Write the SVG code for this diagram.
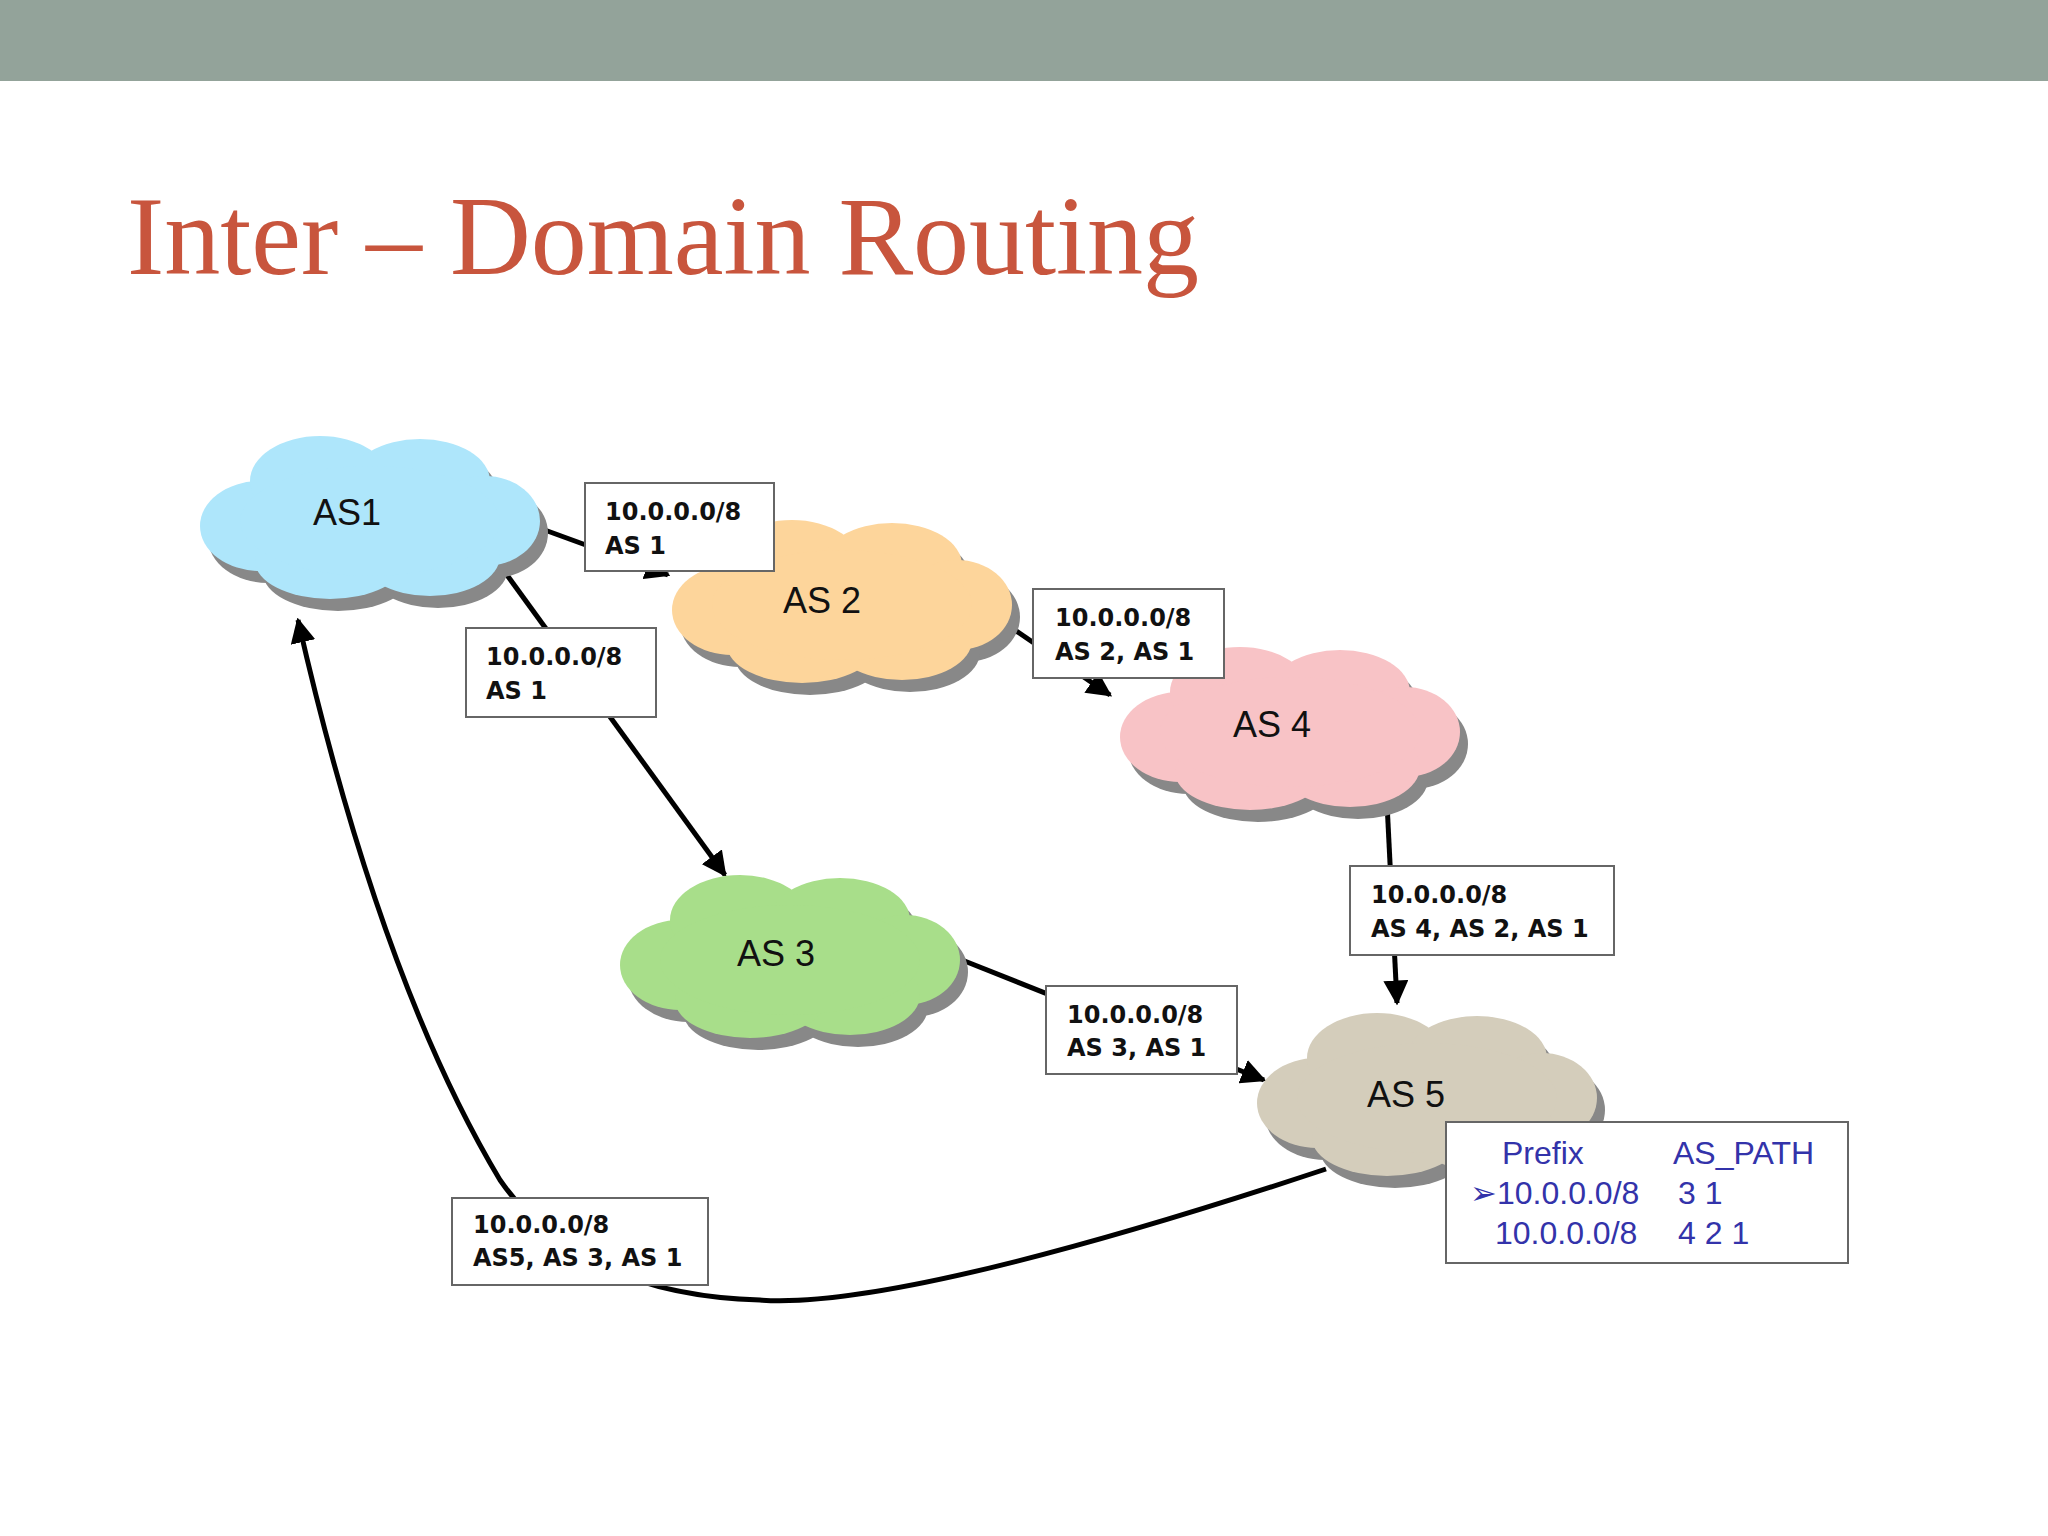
<svg xmlns="http://www.w3.org/2000/svg" width="2048" height="1536" viewBox="0 0 2048 1536">
<style>
.lbl{font-family:"Liberation Sans",Arial,sans-serif;font-size:36px;fill:#111}
.bx{fill:#fff;stroke:#666;stroke-width:2}
.bt{font-family:"DejaVu Sans",Verdana,sans-serif;font-size:24px;font-weight:bold;fill:#111}
.tt{font-family:"Liberation Sans",Arial,sans-serif;font-size:32px;fill:#3333aa}
.cn{stroke:#000;stroke-width:5;fill:none;marker-end:url(#ah)}
</style>
<defs>
<marker id="ah" viewBox="0 0 10 10" refX="9" refY="5" markerWidth="5" markerHeight="5" orient="auto" markerUnits="strokeWidth"><path d="M0,0L10,5L0,10z" fill="#000"/></marker>
<g id="cloud">
<ellipse cx="-110" cy="10" rx="60" ry="45"/><ellipse cx="-50" cy="-35" rx="70" ry="45"/><ellipse cx="50" cy="-35" rx="70" ry="42"/><ellipse cx="115" cy="5" rx="55" ry="45"/><ellipse cx="60" cy="40" rx="70" ry="40"/><ellipse cx="-40" cy="45" rx="75" ry="38"/><ellipse cx="0" cy="5" rx="130" ry="55"/>
</g>
</defs>
<rect width="2048" height="1536" fill="#fff"/>
<rect width="2048" height="81" fill="#93a39a"/>
<text x="127" y="274" font-family="Liberation Serif,serif" font-size="112" fill="#c8553d" textLength="1072">Inter – Domain Routing</text>
<g id="connectors">
<line class="cn" x1="542" y1="529" x2="668" y2="575"/>
<line class="cn" x1="507" y1="575" x2="725" y2="875"/>
<line class="cn" x1="1006" y1="624" x2="1110" y2="695"/>
<line class="cn" x1="1387" y1="803" x2="1397" y2="1003"/>
<line class="cn" x1="962" y1="960" x2="1264" y2="1080"/>
<path class="cn" d="M1326,1169 Q900,1310 760,1300 Q580,1295 500,1180 Q380,980 298,620"/>
</g>
<g id="AS1"><use href="#cloud" x="378" y="528" fill="#888"/><use href="#cloud" x="370" y="516" fill="#aee6fb"/><text class="lbl" x="313" y="525">AS1</text></g>
<g id="AS2"><use href="#cloud" x="850" y="612" fill="#888"/><use href="#cloud" x="842" y="600" fill="#fdd59b"/><text class="lbl" x="783" y="613">AS 2</text></g>
<g id="AS4"><use href="#cloud" x="1298" y="739" fill="#888"/><use href="#cloud" x="1290" y="727" fill="#f8c3c6"/><text class="lbl" x="1233" y="737">AS 4</text></g>
<g id="AS3"><use href="#cloud" x="798" y="967" fill="#888"/><use href="#cloud" x="790" y="955" fill="#a8de8a"/><text class="lbl" x="737" y="966">AS 3</text></g>
<g id="AS5"><use href="#cloud" x="1435" y="1105" fill="#888"/><use href="#cloud" x="1427" y="1093" fill="#d4cdbb"/><text class="lbl" x="1367" y="1107">AS 5</text></g>
<g id="b1"><rect class="bx" x="585" y="483" width="189" height="88"/><text class="bt" x="605" y="520">10.0.0.0/8</text><text class="bt" x="605" y="554">AS 1</text></g>
<g id="b2"><rect class="bx" x="466" y="628" width="190" height="89"/><text class="bt" x="486" y="665">10.0.0.0/8</text><text class="bt" x="486" y="699">AS 1</text></g>
<g id="b3"><rect class="bx" x="1033" y="589" width="191" height="89"/><text class="bt" x="1055" y="626">10.0.0.0/8</text><text class="bt" x="1055" y="660">AS 2, AS 1</text></g>
<g id="b4"><rect class="bx" x="1350" y="866" width="264" height="89"/><text class="bt" x="1371" y="903">10.0.0.0/8</text><text class="bt" x="1371" y="937">AS 4, AS 2, AS 1</text></g>
<g id="b5"><rect class="bx" x="1046" y="986" width="191" height="88"/><text class="bt" x="1067" y="1023">10.0.0.0/8</text><text class="bt" x="1067" y="1056">AS 3, AS 1</text></g>
<g id="b6"><rect class="bx" x="452" y="1198" width="256" height="87"/><text class="bt" x="473" y="1233">10.0.0.0/8</text><text class="bt" x="473" y="1266">AS5, AS 3, AS 1</text></g>
<g id="table"><rect class="bx" x="1446" y="1122" width="402" height="141"/>
<text class="tt" x="1502" y="1164">Prefix</text><text class="tt" x="1673" y="1164">AS_PATH</text>
<text class="tt" x="1470" y="1204">➢10.0.0.0/8</text><text class="tt" x="1678" y="1204">3 1</text>
<text class="tt" x="1495" y="1244">10.0.0.0/8</text><text class="tt" x="1678" y="1244">4 2 1</text></g>
</svg>
